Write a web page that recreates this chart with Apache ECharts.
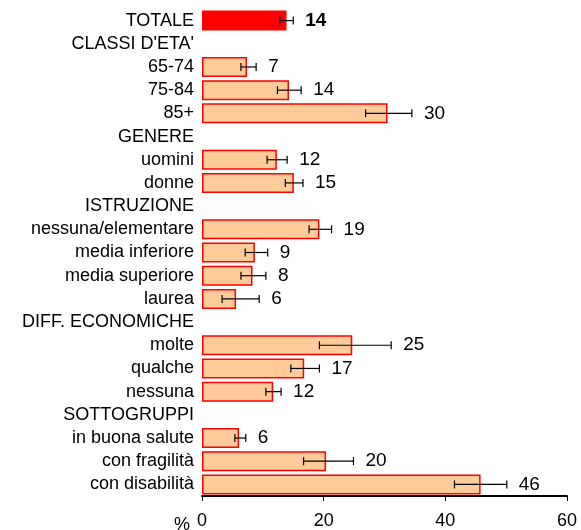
<!DOCTYPE html>
<html>
<head>
<meta charset="utf-8">
<script src="https://cdn.jsdelivr.net/npm/echarts@6/dist/echarts.min.js"></script>
<style>
  html, body { margin: 0; padding: 0; background: #fff; }
  #main { width: 581px; height: 530px; }
</style>
</head>
<body>
<div id="main"></div>
<script>
const categories = ['TOTALE', "CLASSI D'ETA'", '65-74', '75-84', '85+', 'GENERE', 'uomini', 'donne',
  'ISTRUZIONE', 'nessuna/elementare', 'media inferiore', 'media superiore', 'laurea',
  'DIFF. ECONOMICHE', 'molte', 'qualche', 'nessuna', 'SOTTOGRUPPI', 'in buona salute',
  'con fragilità', 'con disabilità'];
const values = [13.9, null, 7.4, 14.3, 30.5, null, 12.3, 15.1, null, 19.3, 8.7, 8.3, 5.6,
  null, 24.7, 16.8, 11.7, null, 6.1, 20.4, 45.8];
const lower = [12.8, null, 6.4, 12.4, 26.9, null, 10.7, 13.7, null, 17.6, 7.1, 6.4, 3.3,
  null, 19.3, 14.6, 10.5, null, 5.4, 16.7, 41.5];
const upper = [15.0, null, 8.9, 16.3, 34.5, null, 14.0, 16.6, null, 21.3, 10.8, 10.5, 9.4,
  null, 31.1, 19.3, 13.0, null, 7.2, 24.9, 50.1];
const valueLabels = ['14', '', '7', '14', '30', '', '12', '15', '', '19', '9', '8', '6',
  '', '25', '17', '12', '', '6', '20', '46'];
const xTicks = [0, 20, 40, 60];

const FONT = '"Liberation Sans", Arial, sans-serif';

const chart = echarts.init(document.getElementById('main'));

const barData = values.map((v, i) => {
  if (v == null) return null;
  if (i === 0) {
    return { value: v, itemStyle: { color: '#ff0000', borderColor: '#ff0000' } };
  }
  return v;
});

const errData = [];
categories.forEach((c, i) => {
  if (values[i] != null) errData.push([i, lower[i], upper[i], valueLabels[i]]);
});

chart.setOption({
  animation: false,
  grid: { left: 202, right: 14, top: 9, bottom: 33 },
  xAxis: {
    type: 'value',
    min: xTicks[0],
    max: xTicks[xTicks.length - 1],
    interval: 20,
    axisLine: { show: true, lineStyle: { color: '#000', width: 2 } },
    axisTick: { show: true, length: 5, lineStyle: { color: '#000' } },
    splitLine: { show: false },
    axisLabel: { color: '#000', fontSize: 18, fontFamily: FONT, margin: 16 }
  },
  yAxis: {
    type: 'category',
    data: categories,
    inverse: true,
    axisLine: { show: false },
    axisTick: { show: false },
    axisLabel: { color: '#000', fontSize: 18, fontFamily: FONT, margin: 8, interval: 0 }
  },
  graphic: [{
    type: 'text',
    left: 174,
    top: 516,
    style: { text: '%', fontSize: 18, fontFamily: FONT, fill: '#000' }
  }],
  series: [
    {
      type: 'bar',
      data: barData,
      barWidth: 20,
      itemStyle: { color: '#ffcc99', borderColor: '#ff0000', borderWidth: 1.5 }
    },
    {
      type: 'custom',
      data: errData,
      z: 10,
      renderItem: function (params, api) {
        const idx = api.value(0);
        const lo = api.coord([api.value(1), idx]);
        const hi = api.coord([api.value(2), idx]);
        const cap = 4;
        const style = { stroke: '#000', lineWidth: 1.2 };
        return {
          type: 'group',
          children: [
            { type: 'line', shape: { x1: lo[0], y1: lo[1], x2: hi[0], y2: hi[1] }, style: style },
            { type: 'line', shape: { x1: lo[0], y1: lo[1] - cap, x2: lo[0], y2: lo[1] + cap }, style: style },
            { type: 'line', shape: { x1: hi[0], y1: hi[1] - cap, x2: hi[0], y2: hi[1] + cap }, style: style },
            {
              type: 'text',
              x: hi[0] + 12,
              y: hi[1],
              style: {
                text: api.value(3),
                fill: '#000',
                fontSize: 19,
                fontFamily: FONT,
                fontWeight: idx === 0 ? 'bold' : 'normal',
                verticalAlign: 'middle',
                align: 'left'
              }
            }
          ]
        };
      }
    }
  ]
});
</script>
</body>
</html>
